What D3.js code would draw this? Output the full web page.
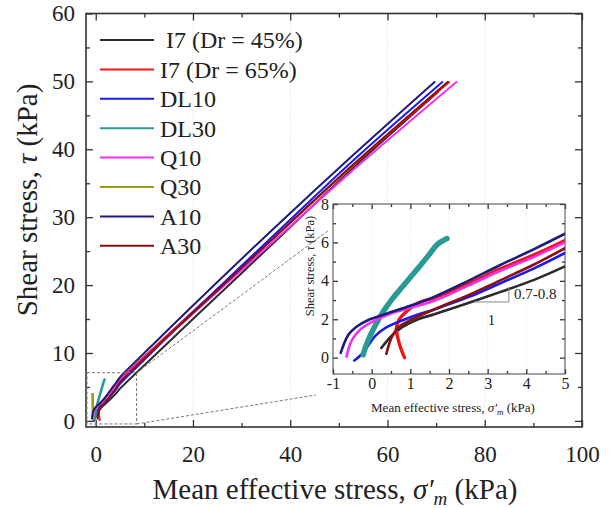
<!DOCTYPE html>
<html>
<head>
<meta charset="utf-8">
<script src="https://cdn.jsdelivr.net/npm/d3@7"></script>
<style>
  body { margin: 0; background: #fff; }
  text { font-family: "Liberation Serif", "Times New Roman", serif; fill: #222; }
</style>
</head>
<body>
<div id="chart"></div>
<script>
// series names + colours (legend order)
const seriesNames = [" I7 (Dr = 45%)", "I7 (Dr = 65%)", "DL10", "DL30", "Q10", "Q30", "A10", "A30"];
const seriesColors = ["#2b2b2b", "#f01414", "#1a1aee", "#2a9a96", "#f030f0", "#9a9a1a", "#1c1c7a", "#8a1010"];

// [mean effective stress, shear stress] in kPa
const i7d45 = [[0.25,0.5],[0.5,1.1],[0.8,1.6],[1.2,2.0],[1.6,2.25],[2.5,2.85],[3.3,3.4],[4.2,4.05],[5,4.75],
  [10,8.2],[20,15.0],[37,26.5],[53,37.3],[70.5,48.5]];
const i7d65 = [[0.85,0],[0.75,0.5],[0.68,1.0],[0.64,1.5],[0.7,1.95],[0.9,2.4],[1.2,2.85],[1.6,3.1],[2.5,3.85],[3.3,4.6],[4.2,5.35],[5,6.1],
  [10,9.5],[20,16.1],[37,27.2],[53,37.7],[72.8,50]];
const dl10 = [[-0.45,-0.15],[-0.3,0.1],[-0.1,0.6],[0.1,1.15],[0.4,1.6],[0.8,1.95],[1.2,2.25],[1.6,2.5],[2.5,3.15],[3.3,3.85],[4.2,4.65],[5,5.45],
  [10,9.0],[20,16.0],[37,27.6],[53,38.4],[71.4,50]];
const dl30 = [[-0.22,0.15],[-0.15,0.6],[-0.05,1.1],[0.1,1.7],[0.3,2.4],[0.55,3.1],[0.8,3.7],[1.05,4.3],[1.3,4.9],[1.5,5.4],[1.7,5.9],[1.95,6.2]];
const q10 = [[-0.65,0.05],[-0.6,0.45],[-0.5,0.95],[-0.3,1.45],[0,1.85],[0.5,2.3],[1,2.6],[1.6,2.95],[2.5,3.75],[3.3,4.5],[4.2,5.25],[5,6.0],
  [10,9.3],[20,15.8],[37,26.7],[53,37.0],[74.3,50]];
const q30 = [[-0.5,0.1],[-0.55,0.9],[-0.6,2.0],[-0.62,3.0],[-0.65,4.1]];
const a10 = [[-0.8,0.25],[-0.72,0.7],[-0.6,1.2],[-0.4,1.6],[-0.1,1.95],[0.4,2.3],[1,2.7],[1.6,3.15],[2.5,4.0],[3.3,4.8],[4.2,5.65],[5,6.45],
  [10,10.0],[20,17.0],[37,28.6],[53,39.2],[69.8,50]];
const a30 = [[0.38,0.2],[0.45,0.7],[0.55,1.2],[0.7,1.6],[1,1.95],[1.6,2.5],[2.5,3.25],[3.3,4.0],[4.2,4.85],[5,5.7],
  [10,9.2],[20,15.9],[37,27.2],[53,37.8],[72.5,50]];
const seriesData = [i7d45, i7d65, dl10, dl30, q10, q30, a10, a30];
// Q30 is not drawn in the inset of the original
const insetShows = [true, true, true, true, true, false, true, true];

const xTicks = [0, 20, 40, 60, 80, 100];
const yTicks = [0, 10, 20, 30, 40, 50, 60];
const insetXTicks = [-1, 0, 1, 2, 3, 4, 5];
const insetYTicks = [0, 2, 4, 6, 8];

const svg = d3.select("#chart").append("svg").attr("width", 610).attr("height", 508);

// ---------- main plot ----------
const x = d3.scaleLinear().domain([-2, 100]).range([86, 582]);
const y = d3.scaleLinear().domain([-0.9, 60]).range([427, 13.5]);

svg.append("defs").append("clipPath").attr("id", "mainClip")
  .append("rect").attr("x", 86).attr("y", 13.5).attr("width", 496).attr("height", 413.5);

// light dotted grid
svg.append("g").selectAll("line").data([20, 40, 60, 80]).join("line")
  .attr("x1", d => x(d)).attr("x2", d => x(d))
  .attr("y1", y(60)).attr("y2", y(-0.9))
  .style("stroke", "#d8d8d8").style("stroke-dasharray", "1,2");

// axes (ticks point inward)
function addAxis(axisFn, scale, translate, major, minor, big, small, pad, fs) {
  svg.append("g").attr("transform", translate)
    .call(axisFn(scale).tickValues(minor).tickSize(-small).tickFormat(""))
    .call(g => g.select(".domain").remove())
    .call(g => g.selectAll("line").style("stroke", "#333").style("stroke-width", 1.3));
  const g = svg.append("g").attr("transform", translate)
    .call(axisFn(scale).tickValues(major).tickSize(-big).tickPadding(pad).tickFormat(d => String(d)));
  g.select(".domain").remove();
  g.selectAll("line").style("stroke", "#333").style("stroke-width", 1.3);
  g.selectAll("text").style("font-size", fs + "px").style("fill", "#222");
  return g;
}
addAxis(d3.axisBottom, x, "translate(0,427)", xTicks, [10, 30, 50, 70, 90], 7, 4, 19, 23);
addAxis(d3.axisTop, x, "translate(0,13.5)", xTicks, [10, 30, 50, 70, 90], 7, 4, 0, 0).selectAll("text").remove();
addAxis(d3.axisLeft, y, "translate(86,0)", yTicks, [5, 15, 25, 35, 45, 55], 7, 4, 11, 23);
addAxis(d3.axisRight, y, "translate(582,0)", yTicks, [5, 15, 25, 35, 45, 55], 7, 4, 0, 0).selectAll("text").remove();

svg.append("rect").attr("x", 86).attr("y", 13.5).attr("width", 496).attr("height", 413.5)
  .style("fill", "none").style("stroke", "#333").style("stroke-width", 1.6);

const mainLine = d3.line().x(d => x(d[0])).y(d => y(d[1])).curve(d3.curveCatmullRom.alpha(0.5));
svg.append("g").attr("clip-path", "url(#mainClip)")
  .selectAll("path").data(seriesData).join("path")
  .attr("d", mainLine)
  .style("fill", "none")
  .style("stroke", (d, i) => seriesColors[i])
  .style("stroke-width", (d, i) => (i === 3 || i === 5) ? 2.6 : 2);

// zoom box + connectors
const dash = "3,2";
svg.append("rect")
  .attr("x", x(-1.8)).attr("y", y(7.1))
  .attr("width", x(8.4) - x(-1.8)).attr("height", y(-0.45) - y(7.1))
  .style("fill", "none").style("stroke", "#777").style("stroke-dasharray", dash);

// ---------- inset ----------
const ix = d3.scaleLinear().domain([-1, 5]).range([333, 565]);
const iy = d3.scaleLinear().domain([-0.85, 8]).range([374, 204]);

svg.append("line").attr("x1", x(8.4)).attr("y1", y(7.1)).attr("x2", 328).attr("y2", iy(6.6))
  .style("stroke", "#777").style("stroke-dasharray", dash);
svg.append("line").attr("x1", x(8.4)).attr("y1", y(-0.45)).attr("x2", 316).attr("y2", 395)
  .style("stroke", "#777").style("stroke-dasharray", dash);

svg.append("rect").attr("x", 333).attr("y", 204).attr("width", 232).attr("height", 170)
  .style("fill", "#fff");

svg.append("defs").append("clipPath").attr("id", "insetClip")
  .append("rect").attr("x", 333).attr("y", 204).attr("width", 232).attr("height", 170);

svg.append("g").selectAll("line").data([0, 1, 2, 3, 4]).join("line")
  .attr("x1", d => ix(d)).attr("x2", d => ix(d))
  .attr("y1", iy(8)).attr("y2", iy(-0.85))
  .style("stroke", "#e2e2e2").style("stroke-dasharray", "1,2");

addAxis(d3.axisBottom, ix, "translate(0,374)", insetXTicks, [-0.5, 0.5, 1.5, 2.5, 3.5, 4.5], 5, 3, 4, 16);
addAxis(d3.axisTop, ix, "translate(0,204)", insetXTicks, [-0.5, 0.5, 1.5, 2.5, 3.5, 4.5], 5, 3, 0, 0).selectAll("text").remove();
addAxis(d3.axisLeft, iy, "translate(333,0)", insetYTicks, [1, 3, 5, 7], 5, 3, 4, 16);
addAxis(d3.axisRight, iy, "translate(565,0)", insetYTicks, [1, 3, 5, 7], 5, 3, 0, 0).selectAll("text").remove();

svg.append("rect").attr("x", 333).attr("y", 204).attr("width", 232).attr("height", 170)
  .style("fill", "none").style("stroke", "#555").style("stroke-width", 1.1);

const insetLine = d3.line().x(d => ix(d[0])).y(d => iy(d[1])).curve(d3.curveCatmullRom.alpha(0.5));
const insetData = seriesData.map((d, i) => ({ i: i, pts: d.filter(p => p[0] <= 5.5) }))
  .filter(d => insetShows[d.i]);
svg.append("g").attr("clip-path", "url(#insetClip)")
  .selectAll("path").data(insetData).join("path")
  .attr("d", d => insetLine(d.pts))
  .style("fill", "none")
  .style("stroke", d => seriesColors[d.i])
  .style("stroke-width", d => d.i === 3 ? 5.5 : (d.i === 1 ? 3.4 : 2.6))
  .style("stroke-linecap", "round");

// slope triangle
const slopeTri = [[2.64, 2.9], [3.55, 2.9], [3.55, 3.69]];
svg.append("path").attr("d", d3.line().x(d => ix(d[0])).y(d => iy(d[1]))(slopeTri))
  .style("fill", "none").style("stroke", "#888").style("stroke-width", 1);
svg.append("text").attr("x", ix(3.55) + 5).attr("y", iy(3.3) + 5)
  .style("font-size", "15px").text("0.7-0.8");
svg.append("text").attr("x", ix(3.1)).attr("y", iy(2.0) + 6)
  .attr("text-anchor", "middle").style("font-size", "15px").text("1");

// inset titles
const iyl = svg.append("text").attr("transform", "translate(314,266) rotate(-90)")
  .attr("text-anchor", "middle").style("font-size", "12.5px");
iyl.append("tspan").text("Shear stress, ");
iyl.append("tspan").style("font-style", "italic").text("τ");
iyl.append("tspan").text(" (kPa)");

const ixl = svg.append("text").attr("x", 453).attr("y", 412)
  .attr("text-anchor", "middle").style("font-size", "13px");
ixl.append("tspan").text("Mean effective stress, ");
ixl.append("tspan").style("font-style", "italic").text("σ′");
ixl.append("tspan").style("font-style", "italic").style("font-size", "9px").attr("dy", 3).text("m");
ixl.append("tspan").attr("dy", -3).text(" (kPa)");

// ---------- main titles ----------
const yl = svg.append("text").attr("transform", "translate(37,200) rotate(-90)")
  .attr("text-anchor", "middle").style("font-size", "29px");
yl.append("tspan").text("Shear stress, ");
yl.append("tspan").style("font-style", "italic").text("τ");
yl.append("tspan").text(" (kPa)");

const xl = svg.append("text").attr("x", 335).attr("y", 499)
  .attr("text-anchor", "middle").style("font-size", "29px");
xl.append("tspan").text("Mean effective stress, ");
xl.append("tspan").style("font-style", "italic").text("σ′");
xl.append("tspan").style("font-style", "italic").style("font-size", "19px").attr("dy", 6).text("m");
xl.append("tspan").attr("dy", -6).text(" (kPa)");

// ---------- legend ----------
const legend = svg.append("g").selectAll("g").data(seriesNames).join("g")
  .attr("transform", (d, i) => `translate(100,${40 + i * 29.4})`);
legend.append("line").attr("x1", 0).attr("x2", 54)
  .style("stroke", (d, i) => seriesColors[i]).style("stroke-width", 2);
legend.append("text").attr("x", 60).attr("dy", "0.35em")
  .style("font-size", "24px").style("white-space", "pre").text(d => d);
</script>
</body>
</html>
